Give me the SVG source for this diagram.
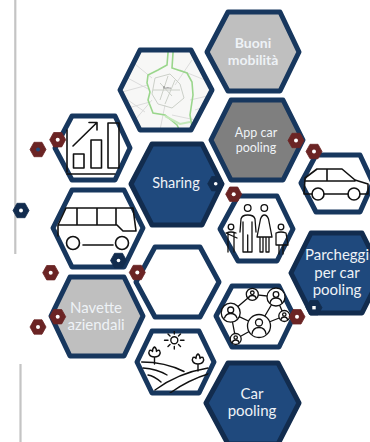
<svg xmlns="http://www.w3.org/2000/svg" xmlns:xlink="http://www.w3.org/1999/xlink" width="370" height="442" viewBox="0 0 370 442">
<style>
.hex{stroke:#17375e;stroke-width:5;stroke-linejoin:round;fill:#fff}
.dk{fill:#1f497d;stroke:#122c4e}
.lg{fill:#bfbfbf}
.mg{fill:#7f7f7f}
.t{font-family:Lato,"Open Sans",sans-serif;fill:#eef2f6;text-anchor:middle;font-size:14px}
.i{fill:none;stroke:#111;stroke-width:1.6;stroke-linecap:round;stroke-linejoin:round}
.m{fill:#6b2424;stroke:#6b2424;stroke-width:0.8}
.n{fill:#122c4e;stroke:#122c4e;stroke-width:0.8}
.d{fill:#fff}
.r{fill:none;stroke:#c4c4c4;stroke-width:2.2}
</style>
<defs>
<polygon id="s" points="-8,0 -4,-7.200 4,-7.200 8,0 4,7.200 -4,7.200" stroke-linejoin="round"/>
<clipPath id="mapc"><polygon points="120,90 140,50 191,50 212,90 191,130 140,130"/></clipPath>
<clipPath id="farmc"><polygon points="137,362 152,331 199,331 214,362 199,393 152,393"/></clipPath>
<filter id="b" x="-5%" y="-5%" width="110%" height="110%"><feGaussianBlur stdDeviation="0.4"/></filter>
</defs>
<g id="rules">
<line class="r" x1="15.300" y1="0" x2="15.300" y2="254"/>
<line class="r" x1="20.500" y1="364" x2="20.500" y2="442"/>
</g>
<g id="connectors"/>

<g id="node-map">
<g clip-path="url(#mapc)"><g filter="url(#b)">
<rect x="120" y="50" width="92" height="80" fill="#f7f7f6"/>
<path d="M122 92L148 85M122 75L150 90M135 120L152 100M130 60L152 78M172 115L205 122M192 60L175 85M190 100L212 95M180 70L205 80M160 130L165 105M128 108L150 102M195 110L210 105M125 98L145 112" fill="none" stroke="#d8d8d8" stroke-width="0.9"/>
<path d="M155 78L170 74L180 84L184 98L172 108L158 104L152 94Z M160 83L172 96M168 76L160 100M153 90L180 90M175 80L165 104" fill="none" stroke="#c6cbc3" stroke-width="0.9"/>
<path d="M168 50L168 53L167 65L158 70L148 75L147 83L150 92L148 100L153 113L165 115L177 125L180 131M173 50V53L172 68L187 73L192 82L193 95L190 115L192 127L194 131" fill="none" stroke="#9ad68c" stroke-width="1.600"/>
<path d="M165 116L180 124L190 122" fill="none" stroke="#c4e8ba" stroke-width="2"/>
<text x="167" y="89" font-family="Liberation Sans,sans-serif" font-size="3" fill="#777" text-anchor="middle">Roma</text>
</g></g>
<polygon class="hex" style="fill:none" points="120,90 140,50 191,50 212,90 191,130 140,130"/>
</g>

<g id="node-buoni">
<polygon class="hex lg" points="207,52 228,12 280,12 299,52 280,91 228,91"/>
<text class="t" x="253" y="48" font-weight="700" style="font-size:14px">Buoni</text>
<text class="t" x="253" y="65" font-weight="700" style="font-size:14px">mobilità</text>
</g>

<g id="node-app">
<polygon class="hex mg" points="211,140 231,100 283,100 303,140 283,180 231,180"/>
<text class="t" x="256" y="137" style="font-size:12.500px">App car</text>
<text class="t" x="256" y="152" style="font-size:12.500px">pooling</text>
</g>

<g id="node-chart">
<polygon class="hex" points="55,148 72,116 115,116 130,148 115,180 72,180"/>
<g class="i">
<rect x="73.500" y="154" width="10.500" height="14"/>
<rect x="91" y="140" width="10.500" height="28"/>
<rect x="108" y="123" width="11" height="45"/>
<path d="M73 146L97 122.500M89 122.500H97V130"/>
<path d="M67 174H115M67 130V172"/>
</g>
</g>

<g id="node-sharing">
<polygon class="hex dk" points="131,184 152,144 202,144 222,184 202,225 152,225"/>
<text class="t" x="176" y="188" style="font-size:14.500px">Sharing</text>
</g>

<g id="node-car">
<polygon class="hex" points="301,183 316,155 360,155 373,183 360,212 316,212"/>
<g class="i">
<circle cx="318" cy="194" r="6"/><circle cx="354" cy="194" r="6"/>
<path d="M304 194H312M324 194H348M360 194H368V184L355 180L342 169H317L305 178L304 194M305 181H355M327 169V181"/>
</g>
</g>

<g id="node-bus">
<polygon class="hex" points="53,228 72,190 124,190 143,228 124,267 72,267"/>
<g class="i">
<path d="M66 208H133L136 231H123L117 225H58L66 208M58 225V236M77 208V225M97 208V225M116 208V225"/>
<circle cx="73" cy="243" r="6.500"/><circle cx="122" cy="243" r="6.500"/>
<path d="M83 245H113"/>
</g>
</g>

<g id="node-family">
<polygon class="hex" points="220,229 238,196 277,196 293,229 277,261 238,261"/>
<g class="i" style="stroke-width:1.300">
<circle cx="247.700" cy="208" r="3.300"/><circle cx="264.300" cy="208" r="3.300"/>
<circle cx="231" cy="227" r="2.800"/><circle cx="281" cy="227" r="2.800"/>
<path d="M240 232L241 219Q242 215 247.700 215Q254 215 255 219L256 232M243 222V252H247M252 222V252H248M247.700 235V252"/>
<path d="M257 237L260.500 219Q262 215 264.300 215Q267 215 268.500 219L272 237ZM260 237V252H263V237M266 237V252H269V237"/>
<path d="M226 233Q231 231 236 233M228 233V252M234 233V252M226 233L237 238"/>
<path d="M276 233Q281 231 286 233L288 245H276ZM279 245V254M283 245V254"/>
</g>
</g>

<g id="node-empty">
<polygon class="hex" points="136,282 155,247 200,247 219,282 200,317 155,317"/>
</g>

<g id="node-parcheggi">
<polygon class="hex dk" points="291,273 311,233 362,233 382,273 362,313 311,313"/>
<text class="t" x="337" y="260" style="font-size:15px">Parcheggi</text>
<text class="t" x="337" y="278" style="font-size:15px">per car</text>
<text class="t" x="337" y="295" style="font-size:15px">pooling</text>
</g>

<g id="node-navette">
<polygon class="hex lg" points="51,316 70,277 124,277 143,316 124,356 70,356"/>
<text class="t" x="96" y="313" style="font-size:15px">Navette</text>
<text class="t" x="96" y="330" style="font-size:15px">aziendali</text>
</g>

<g id="node-network">
<polygon class="hex" points="216,316 232,286 279,286 294,316 279,347 232,347"/>
<g class="i" style="stroke-width:1.300">
<path d="M230.700 312.700L252.300 294.300L276 297L259 326L230.700 312.700L235.700 339L259 326L284.300 316L276 297"/>
<g style="fill:#fff">
<circle cx="259" cy="326" r="11.500"/><circle cx="230.700" cy="312.700" r="9.500"/><circle cx="276" cy="297" r="9"/><circle cx="252.300" cy="294.300" r="6"/><circle cx="284.300" cy="316" r="5.500"/><circle cx="235.700" cy="339" r="5.500"/>
</g>
<circle cx="259" cy="322.500" r="3.500"/><path d="M252 334Q253 327.500 259 327.500Q265 327.500 266 334"/>
<circle cx="230.700" cy="310" r="3"/><path d="M224.500 318Q226 313.500 230.700 313.500Q235.500 313.500 237 318"/>
<circle cx="276" cy="294.500" r="2.800"/><path d="M270 303Q271 298 276 298Q281 298 282 303"/>
<circle cx="252.300" cy="292.800" r="1.800"/><path d="M248.500 298Q249 295.500 252.300 295.500Q255.500 295.500 256 298"/>
<circle cx="284.300" cy="314.500" r="1.700"/><path d="M281 319.500Q281.500 317 284.300 317Q287 317 287.500 319.500"/>
<circle cx="235.700" cy="337.500" r="1.700"/><path d="M232.300 342.500Q233 340 235.700 340Q238.500 340 239 342.500"/>
</g>
</g>

<g id="node-farm">
<polygon class="hex" points="137,362 152,331 199,331 214,362 199,393 152,393"/>
<g class="i" clip-path="url(#farmc)" style="stroke-width:1.400">
<circle cx="174.300" cy="340.300" r="3.500"/>
<path d="M164.500 340.300H168M180.500 340.300H184M174.300 331V334M168 334L170 336M180.500 334L178.500 336M168 346.500L170 344.500M180.500 346.500L178.500 344.500M174.300 346.500V349"/>
<path d="M154.500 364V357M154.500 357C149 357 148 353 149.500 350.500C151 350 152 350.500 152.500 351.500C152.500 349 153.500 347.500 154.500 347C155.500 347.500 156.500 349 156.500 351.500C157 350.500 158 350 159.500 350.500C161 353 160 357 154.500 357"/>
<path d="M198 371V364M198 364C192.500 364 191.500 360 193 357.500C194.500 357 195.500 357.500 196 358.500C196 356 197 354.500 198 354C199 354.500 200 356 200 358.500C200.500 357.500 201.500 357 203 357.500C204.500 360 203.500 364 198 364"/>
<path d="M141.700 362Q165 362 184 371.500M143 368Q157 369 167 375M148 375Q154 376 161 382M155 390Q178 373 208 368M170 393Q188 380 211 373"/>
</g>
</g>

<g id="node-carpooling">
<polygon class="hex dk" points="206,403 228,363 278,363 299,403 278,444 228,444"/>
<text class="t" x="252" y="399" style="font-size:15px">Car</text>
<text class="t" x="252" y="416" style="font-size:15px">pooling</text>
</g>

<g id="badges">
<g id="b1"><use xlink:href="#s" class="m" x="57.700" y="139.700"/><circle class="d" cx="57.700" cy="139.700" r="2"/></g>
<g id="b2"><use xlink:href="#s" class="m" x="38" y="149.500"/><circle cx="38" cy="149.500" r="2" fill="#1f497d"/></g>
<g id="b3"><use xlink:href="#s" class="n" x="21" y="210.500"/><circle class="d" cx="21" cy="210.500" r="2"/></g>
<g id="b4"><use xlink:href="#s" class="m" x="296" y="140.500"/><circle class="d" cx="296" cy="140.500" r="2"/></g>
<g id="b5"><use xlink:href="#s" class="m" x="314" y="151.500"/><circle class="d" cx="314" cy="151.500" r="2"/></g>
<g id="b6"><use xlink:href="#s" class="n" x="215.700" y="183.700"/><circle class="d" cx="215.700" cy="183.700" r="1.800"/></g>
<g id="b7"><use xlink:href="#s" class="m" x="233.700" y="194.200"/><circle class="d" cx="233.700" cy="194.200" r="2"/></g>
<g id="b8"><use xlink:href="#s" class="n" x="118.500" y="260.500"/><circle class="d" cx="118.500" cy="260.500" r="1.800"/></g>
<g id="b9"><use xlink:href="#s" class="m" x="50.700" y="272.700"/><circle class="d" cx="50.700" cy="272.700" r="2"/></g>
<g id="b10"><use xlink:href="#s" class="m" x="137.300" y="272.500"/><circle class="d" cx="137.300" cy="272.500" r="2"/></g>
<g id="b11"><use xlink:href="#s" class="m" x="57.700" y="316.700"/><circle class="d" cx="57.700" cy="316.700" r="2"/></g>
<g id="b12"><use xlink:href="#s" class="m" x="38" y="327"/><circle class="d" cx="38" cy="327" r="2"/></g>
<g id="b13"><use xlink:href="#s" class="m" x="297" y="316.800"/><circle class="d" cx="297" cy="316.800" r="2"/></g>
<g id="b14"><use xlink:href="#s" class="n" x="314" y="307.700"/><rect class="d" x="312.300" y="306" width="3.400" height="3.400"/></g>
</g>
</svg>
